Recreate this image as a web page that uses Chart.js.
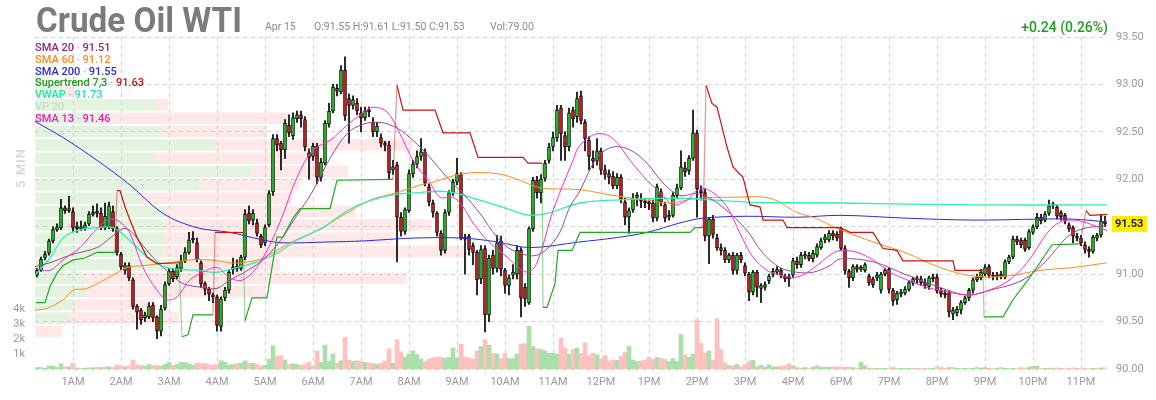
<!DOCTYPE html>
<html>
<head>
<meta charset="utf-8">
<title>Crude Oil WTI</title>
<script src="https://cdn.jsdelivr.net/npm/chart.js@4.4.1/dist/chart.umd.min.js"></script>
<style>
  html, body { margin: 0; padding: 0; background: #fff; }
  #wrap { position: relative; width: 1156px; height: 400px; font-family: Roboto, "Noto Sans", sans-serif; }
  #chart { position: absolute; left: 0; top: 0; }
  .txt { position: absolute; white-space: nowrap; line-height: 1; }
  .title { left: 36px; top: 3px; font-size: 35px; font-weight: bold; color: #7b7b7b; transform: scaleX(0.95); transform-origin: left top; }
  .sub { top: 22px; font-size: 10.5px; color: #8a8a8a; }
  .chg { right: 48px; top: 20px; font-size: 14px; font-weight: 500; color: #1e9e1e; }
  .lg { left: 35px; font-size: 11px; font-weight: 500; line-height: 12px; }
  .dot { color: #aaa; }
  .tf { left: 20px; top: 168px; font-size: 13px; font-weight: bold; color: #dadada; letter-spacing: 1px;
        transform: translate(-50%, -50%) rotate(-90deg); }
</style>
</head>
<body>
<div id="wrap">
  <canvas id="chart" width="1156" height="400"></canvas>
  <div class="txt title">Crude Oil WTI</div>
  <div class="txt sub" style="left:265px">Apr 15</div>
  <div class="txt sub" style="left:314px">O:91.55 H:91.61 L:91.50 C:91.53</div>
  <div class="txt sub" style="left:490px">Vol:79.00</div>
  <div class="txt chg">+0.24 (0.26%)</div>
  <div class="txt tf">5 MIN</div>
  <div class="txt lg" style="top:42px"><span style="color:#8a2a7a">SMA 20</span> <span class="dot">·</span> <span style="color:#8a2a7a">91.51</span></div>
  <div class="txt lg" style="top:53.8px"><span style="color:#ff8c1a">SMA 60</span> <span class="dot">·</span> <span style="color:#ff8c1a">91.12</span></div>
  <div class="txt lg" style="top:65.6px"><span style="color:#2a2ae6">SMA 200</span> <span class="dot">·</span> <span style="color:#2a2ae6">91.55</span></div>
  <div class="txt lg" style="top:77.4px"><span style="color:#1e9a1e">Supertrend 7,3</span> <span class="dot">·</span> <span style="color:#d01010">91.63</span></div>
  <div class="txt lg" style="top:89.2px"><span style="color:#1ee8b0">VWAP</span> <span class="dot">·</span> <span style="color:#1ee8b0">91.73</span></div>
  <div class="txt lg" style="top:101px"><span style="color:#bfe3bf">VP 20</span></div>
  <div class="txt lg" style="top:112.8px"><span style="color:#f01cc0">SMA 13</span> <span class="dot">·</span> <span style="color:#f01cc0">91.46</span></div>
</div>
<script>
// 5-minute candles, 00:15 to 23:30 (17:00 hour is the daily break)
const opens = [
  90.99, 91.04, 91.17, 91.22, 91.35, 91.47, 91.49, 91.70, 91.67, 91.66, 91.49, 91.48,
  91.48, 91.53, 91.63, 91.65, 91.64, 91.49, 91.50, 91.66, 91.48, 91.21, 91.04, 91.09,
  90.94, 90.66, 90.62, 90.54, 90.55, 90.67, 90.55, 90.40, 90.64, 90.90, 91.03, 90.97,
  91.06, 91.14, 91.23, 91.36, 91.33, 91.12, 90.90, 90.84, 90.78, 90.76, 90.45, 90.75,
  90.83, 91.05, 91.07, 91.06, 91.18, 91.64, 91.57, 91.54, 91.40, 91.33, 91.52, 91.87,
  92.43, 92.38, 92.31, 92.57, 92.46, 92.64, 92.68, 92.63, 92.28, 92.24, 92.35, 92.02,
  92.17, 92.58, 92.72, 92.96, 92.92, 93.15, 92.85, 92.78, 92.80, 92.70, 92.65, 92.72,
  92.60, 92.50, 92.44, 92.38, 92.36, 92.10, 92.15, 91.60, 91.45, 91.67, 92.06, 92.16,
  92.24, 92.29, 91.92, 91.75, 91.64, 91.43, 91.25, 91.65, 91.86, 91.97, 92.05, 91.39,
  91.40, 91.30, 91.23, 90.95, 91.27, 90.57, 91.20, 91.06, 91.35, 91.04, 90.88, 90.99,
  91.00, 91.25, 90.86, 90.70, 91.48, 91.99, 91.86, 92.01, 92.20, 92.34, 92.44, 92.75,
  92.46, 92.34, 92.73, 92.66, 92.88, 92.60, 92.41, 92.22, 92.19, 92.30, 92.10, 92.06,
  92.03, 91.93, 92.02, 91.76, 91.60, 91.68, 91.81, 91.78, 91.76, 91.75, 91.75, 91.59,
  91.87, 91.73, 91.60, 91.62, 91.83, 91.91, 92.12, 92.09, 92.22, 92.49, 91.88, 91.86,
  91.40, 91.58, 91.38, 91.28, 91.25, 91.15, 91.20, 91.04, 91.20, 91.09, 91.00, 90.81,
  91.02, 90.85, 90.86, 90.93, 91.00, 91.02, 91.04, 90.98, 90.97, 90.99, 91.14, 91.10,
  91.19, 91.20, 91.16, 91.20, 91.28, 91.36, 91.36, 91.43, 91.42,
  91.48, 91.27, 91.03, 90.96, 91.08, 91.05, 91.04, 90.98, 90.95, 90.96, 90.83, 91.00,
  91.05, 90.83, 90.73, 90.79, 90.80, 90.84, 90.91, 90.96, 90.95, 90.92, 90.87, 90.95,
  90.97, 90.82, 90.80, 90.80, 90.58, 90.59, 90.62, 90.70, 90.75, 90.83, 90.94, 90.96,
  91.00, 91.08, 90.99, 90.97, 90.98, 90.97, 91.13, 91.18, 91.37, 91.36, 91.36, 91.28,
  91.44, 91.50, 91.60, 91.57, 91.64, 91.74, 91.71, 91.65, 91.62, 91.52, 91.49, 91.40,
  91.38, 91.31, 91.26, 91.24, 91.38, 91.41, 91.55
];
const highs = [
  91.06, 91.18, 91.24, 91.37, 91.50, 91.53, 91.79, 91.72, 91.82, 91.70, 91.55, 91.56,
  91.55, 91.66, 91.72, 91.74, 91.70, 91.75, 91.76, 91.72, 91.50, 91.23, 91.12, 91.12,
  90.96, 90.68, 90.64, 90.60, 90.70, 90.70, 90.56, 90.67, 90.92, 91.06, 91.06, 91.10,
  91.20, 91.28, 91.44, 91.45, 91.38, 91.14, 90.92, 90.86, 90.80, 90.78, 90.76, 90.86,
  91.04, 91.17, 91.15, 91.20, 91.68, 91.72, 91.68, 91.58, 91.42, 91.52, 91.88, 92.47,
  92.47, 92.40, 92.63, 92.68, 92.70, 92.72, 92.72, 92.66, 92.32, 92.38, 92.38, 92.22,
  92.62, 92.80, 93.00, 93.00, 93.20, 93.29, 92.90, 92.88, 92.85, 92.76, 92.76, 92.76,
  92.65, 92.60, 92.48, 92.40, 92.40, 92.20, 92.18, 91.65, 91.70, 92.10, 92.20, 92.30,
  92.43, 92.32, 91.95, 91.78, 91.66, 91.46, 91.68, 91.88, 92.00, 92.22, 92.07, 91.42,
  91.42, 91.33, 91.25, 91.30, 91.30, 91.20, 91.25, 91.41, 91.40, 91.06, 90.99, 91.10,
  91.30, 91.28, 90.90, 91.50, 92.02, 92.03, 92.05, 92.20, 92.38, 92.50, 92.78, 92.78,
  92.50, 92.75, 92.76, 92.92, 92.93, 92.63, 92.45, 92.30, 92.43, 92.33, 92.15, 92.10,
  92.08, 92.06, 92.05, 91.80, 91.70, 91.85, 91.86, 91.85, 91.80, 91.78, 91.78, 91.95,
  91.90, 91.76, 91.67, 91.86, 91.95, 92.30, 92.18, 92.25, 92.73, 92.52, 91.93, 91.90,
  91.60, 91.62, 91.42, 91.32, 91.28, 91.22, 91.23, 91.22, 91.23, 91.12, 91.02, 91.04,
  91.04, 90.90, 90.92, 91.00, 91.06, 91.08, 91.06, 91.00, 91.00, 91.17, 91.18, 91.23,
  91.24, 91.23, 91.25, 91.32, 91.38, 91.42, 91.46, 91.46, 91.45,
  91.50, 91.30, 91.05, 91.10, 91.10, 91.09, 91.12, 91.00, 90.97, 91.02, 91.02, 91.06,
  91.07, 90.85, 90.82, 90.84, 90.87, 90.93, 90.97, 90.98, 90.98, 90.95, 90.98, 91.00,
  91.00, 90.85, 90.83, 90.82, 90.65, 90.66, 90.72, 90.77, 90.85, 90.96, 91.00, 91.05,
  91.10, 91.10, 91.02, 91.02, 91.03, 91.15, 91.20, 91.40, 91.40, 91.38, 91.38, 91.47,
  91.52, 91.64, 91.63, 91.66, 91.78, 91.76, 91.73, 91.67, 91.64, 91.54, 91.51, 91.43,
  91.41, 91.34, 91.29, 91.41, 91.43, 91.62, 91.61
];
const lows = [
  90.97, 91.03, 91.15, 91.20, 91.33, 91.45, 91.47, 91.64, 91.65, 91.45, 91.44, 91.46,
  91.46, 91.51, 91.61, 91.60, 91.47, 91.47, 91.48, 91.45, 91.20, 91.05, 91.00, 90.93,
  90.63, 90.42, 90.47, 90.50, 90.53, 90.50, 90.32, 90.35, 90.62, 90.88, 90.92, 90.95,
  91.03, 91.12, 91.21, 91.33, 91.13, 90.86, 90.78, 90.72, 90.70, 90.40, 90.40, 90.72,
  90.80, 91.00, 91.03, 91.04, 91.15, 91.53, 91.52, 91.40, 91.28, 91.30, 91.50, 91.83,
  92.30, 92.10, 92.22, 92.45, 92.42, 92.60, 92.55, 92.30, 92.00, 92.20, 91.95, 91.98,
  92.15, 92.55, 92.70, 92.88, 92.90, 92.62, 92.38, 92.74, 92.68, 92.50, 92.62, 92.66,
  92.45, 92.45, 92.34, 92.30, 92.00, 92.05, 91.13, 91.40, 91.42, 91.65, 92.02, 92.12,
  92.20, 91.93, 91.72, 91.60, 91.40, 91.20, 91.22, 91.62, 91.83, 91.94, 91.36, 91.00,
  91.20, 91.10, 90.78, 90.90, 90.39, 90.50, 91.00, 91.02, 90.98, 90.80, 90.78, 90.95,
  90.95, 90.55, 90.66, 90.68, 91.45, 91.80, 91.75, 91.98, 92.17, 92.30, 92.40, 92.20,
  92.20, 92.30, 92.55, 92.60, 92.58, 92.30, 92.10, 92.12, 92.15, 92.05, 92.00, 91.95,
  91.90, 91.90, 91.75, 91.52, 91.43, 91.65, 91.72, 91.70, 91.70, 91.68, 91.55, 91.56,
  91.72, 91.55, 91.57, 91.60, 91.80, 91.89, 92.03, 92.05, 92.20, 91.60, 91.78, 91.35,
  91.11, 91.38, 91.25, 91.20, 91.12, 91.12, 91.00, 91.00, 91.12, 90.98, 90.72, 90.78,
  90.76, 90.70, 90.83, 90.90, 90.97, 91.00, 90.96, 90.92, 90.87, 90.96, 91.06, 91.07,
  91.16, 91.14, 91.13, 91.18, 91.26, 91.33, 91.34, 91.36, 91.35,
  91.25, 91.00, 90.86, 90.93, 91.02, 91.03, 91.02, 90.88, 90.86, 90.93, 90.80, 90.98,
  90.80, 90.67, 90.68, 90.76, 90.78, 90.82, 90.88, 90.90, 90.88, 90.85, 90.84, 90.92,
  90.80, 90.76, 90.75, 90.55, 90.52, 90.56, 90.58, 90.68, 90.72, 90.80, 90.92, 90.94,
  90.98, 90.96, 90.94, 90.94, 90.95, 90.95, 91.11, 91.16, 91.31, 91.28, 91.24, 91.26,
  91.42, 91.48, 91.53, 91.55, 91.62, 91.69, 91.58, 91.57, 91.53, 91.45, 91.33, 91.35,
  91.30, 91.22, 91.18, 91.22, 91.35, 91.39, 91.50
];
const closes = [
  91.04, 91.16, 91.21, 91.35, 91.47, 91.50, 91.70, 91.67, 91.69, 91.49, 91.48, 91.49,
  91.52, 91.63, 91.65, 91.64, 91.49, 91.61, 91.72, 91.48, 91.23, 91.08, 91.09, 90.96,
  90.66, 90.60, 90.52, 90.57, 90.66, 90.54, 90.40, 90.63, 90.89, 91.03, 90.95, 91.07,
  91.14, 91.23, 91.36, 91.38, 91.15, 90.90, 90.84, 90.79, 90.76, 90.46, 90.74, 90.83,
  91.02, 91.07, 91.06, 91.18, 91.63, 91.56, 91.64, 91.43, 91.31, 91.49, 91.85, 92.43,
  92.36, 92.31, 92.59, 92.49, 92.65, 92.68, 92.64, 92.34, 92.23, 92.35, 92.02, 92.18,
  92.59, 92.72, 92.97, 92.93, 93.15, 92.67, 92.78, 92.84, 92.72, 92.65, 92.72, 92.71,
  92.50, 92.56, 92.38, 92.36, 92.07, 92.13, 91.60, 91.45, 91.68, 92.06, 92.16, 92.24,
  92.29, 91.96, 91.76, 91.65, 91.44, 91.25, 91.65, 91.86, 91.97, 92.06, 91.38, 91.37,
  91.26, 91.23, 90.94, 91.26, 90.57, 91.17, 91.06, 91.33, 91.05, 90.88, 90.96, 91.02,
  91.25, 90.75, 90.74, 91.48, 91.99, 91.86, 92.00, 92.17, 92.34, 92.44, 92.73, 92.48,
  92.34, 92.70, 92.64, 92.85, 92.62, 92.43, 92.24, 92.19, 92.30, 92.10, 92.05, 92.02,
  91.93, 92.02, 91.79, 91.60, 91.67, 91.80, 91.82, 91.77, 91.75, 91.74, 91.59, 91.92,
  91.75, 91.59, 91.62, 91.83, 91.91, 92.13, 92.08, 92.22, 92.49, 91.90, 91.86, 91.40,
  91.58, 91.42, 91.28, 91.25, 91.15, 91.20, 91.04, 91.20, 91.15, 91.01, 90.81, 91.02,
  90.86, 90.88, 90.89, 90.98, 91.03, 91.05, 90.99, 90.95, 90.95, 91.14, 91.10, 91.20,
  91.21, 91.16, 91.22, 91.29, 91.35, 91.39, 91.43, 91.40, 91.38,
  91.27, 91.04, 90.96, 91.08, 91.05, 91.07, 91.10, 90.91, 90.89, 90.99, 91.00, 91.04,
  90.84, 90.72, 90.80, 90.81, 90.84, 90.91, 90.95, 90.94, 90.91, 90.88, 90.96, 90.97,
  90.82, 90.79, 90.78, 90.60, 90.62, 90.63, 90.70, 90.75, 90.83, 90.94, 90.97, 91.02,
  91.07, 90.99, 90.97, 90.99, 91.00, 91.13, 91.18, 91.37, 91.34, 91.31, 91.26, 91.45,
  91.50, 91.60, 91.56, 91.63, 91.72, 91.72, 91.61, 91.60, 91.56, 91.48, 91.40, 91.38,
  91.33, 91.26, 91.24, 91.39, 91.41, 91.56, 91.53
];
// volume in thousands of contracts
const volumes = [
  0.10, 0.10, 0.05, 0.20, 0.20, 0.10, 0.35, 0.15, 0.15, 0.40, 0.08, 0.05,
  0.05, 0.08, 0.08, 0.12, 0.10, 0.12, 0.15, 0.10, 0.27, 0.20, 0.15, 0.20,
  0.60, 0.25, 0.25, 0.18, 0.30, 0.22, 0.25, 0.20, 0.30, 0.45, 0.25, 0.30,
  0.45, 0.45, 0.35, 0.25, 0.40, 0.35, 0.38, 0.30, 0.25, 0.30, 0.55, 0.45,
  0.25, 0.30, 0.35, 0.40, 0.55, 0.40, 0.38, 0.30, 0.20, 0.25, 0.65, 1.55,
  0.85, 0.90, 0.60, 0.30, 0.35, 0.30, 0.25, 0.30, 0.45, 0.15, 1.20, 0.45,
  1.60, 0.50, 1.00, 0.38, 0.55, 2.10, 0.60, 0.50, 0.55, 0.50, 0.45, 0.40,
  0.38, 0.30, 0.38, 0.55, 1.35, 0.38, 1.95, 1.15, 0.80, 1.00, 1.20, 0.95,
  0.65, 0.50, 0.65, 0.75, 0.78, 0.78, 0.72, 0.78, 1.40, 0.75, 1.65, 0.80,
  0.75, 0.65, 1.20, 1.50, 1.95, 1.60, 1.05, 1.00, 0.70, 1.05, 0.70, 0.70,
  1.00, 1.65, 1.70, 2.85, 1.50, 1.35, 1.30, 1.20, 1.05, 1.05, 1.00, 2.05,
  1.40, 1.00, 1.30, 1.40, 1.05, 1.75, 0.90, 1.05, 0.95, 0.65, 0.90, 0.55,
  0.60, 0.58, 0.85, 1.10, 1.50, 0.60, 0.50, 0.55, 0.58, 0.78, 0.65, 0.78,
  0.70, 0.65, 0.50, 0.70, 0.50, 2.30, 0.95, 0.78, 1.00, 3.30, 1.70, 1.05,
  1.20, 0.60, 3.35, 1.30, 0.40, 0.22, 0.22, 0.30, 0.15, 0.30, 0.53, 0.58,
  0.18, 0.25, 0.12, 0.28, 0.14, 0.15, 0.18, 0.22, 0.36, 0.22, 0.10, 0.05,
  0.10, 0.05, 0.13, 0.22, 0.12, 0.12, 0.12, 0.12, 0.15,
  0.12, 0.12, 0.12, 0.10, 0.05, 0.45, 0.22, 0.05, 0.05, 0.04, 0.05, 0.04,
  0.05, 0.12, 0.05, 0.04, 0.05, 0.04, 0.05, 0.04, 0.05, 0.04, 0.05, 0.04,
  0.15, 0.12, 0.05, 0.12, 0.10, 0.05, 0.04, 0.05, 0.04, 0.05, 0.10, 0.05,
  0.10, 0.05, 0.04, 0.05, 0.10, 0.05, 0.04, 0.05, 0.04, 0.10, 0.05, 0.12,
  0.18, 0.18, 0.05, 0.04, 0.05, 0.04, 0.08, 0.05, 0.04, 0.05, 0.08, 0.05,
  0.04, 0.05, 0.04, 0.05, 0.04, 0.08, 0.079
];
const volTicks = [1, 2, 3, 4];

// indicator readings: [candle index, price]
const sma20 = [[-0.5,91.08],[3.25,91.12],[8.25,91.20],[15,91.28],[18.25,91.38],[21.5,91.48],[23.25,91.46],[26.5,91.30],[30,91.13],[33.25,91.01],[36.5,90.90],[41.5,90.86],[45,90.85],[48.25,90.94],[51.5,91.01],[56.5,91.15],[60.75,91.35],[65,91.62],[69,91.88],[73.25,92.22],[77.5,92.48],[81.5,92.58],[85.75,92.60],[90,92.54],[94,92.41],[98.25,92.23],[102.5,92.02],[106.5,91.85],[110.75,91.64],[115,91.39],[119,91.25],[125,91.20],[130,91.39],[133.25,91.71],[135.75,91.88],[140,92.23],[144,92.34],[148.25,92.31],[152.5,92.17],[156.5,91.96],[160.75,91.83],[165,91.85],[169,91.78],[173.25,91.64],[177.5,91.46],[181.5,91.22],[185.75,91.07],[190,91.02],[194,91.02],[198.25,91.09],[200.75,91.16],[209,91.13],[217.5,90.99],[225.75,90.86],[232.5,90.78],[238.25,90.83],[246.5,90.94],[252.5,91.15],[257.5,91.39],[261.5,91.48],[267.5,91.51]];
const sma13 = [[-0.5,91.06],[3.25,91.04],[6.5,91.15],[10.75,91.28],[15,91.48],[18.25,91.58],[20.75,91.55],[23.25,91.43],[26.5,91.07],[30,90.83],[32.5,90.73],[35,90.76],[38.25,90.94],[41.5,91.02],[45,91.07],[48.25,90.96],[51.5,90.94],[55.75,91.12],[60.75,91.55],[65,92.02],[69,92.31],[73.25,92.41],[77.5,92.57],[81.5,92.70],[84,92.76],[87.5,92.71],[90.75,92.48],[94,92.20],[98.25,91.96],[100.75,91.81],[104,91.81],[106.5,91.71],[109,91.54],[112.5,91.36],[117.5,91.18],[122.5,91.02],[125,91.12],[129,91.67],[134,92.20],[135.75,92.36],[140,92.48],[144,92.43],[148.25,92.20],[152.5,91.99],[156.5,91.83],[159,91.73],[162.5,91.78],[165.75,91.90],[169,91.86],[172.5,91.71],[175.75,91.43],[179,91.18],[182.5,91.04],[185.75,90.99],[190,90.97],[194,91.06],[198.25,91.20],[200.75,91.25],[205,91.23],[209,91.15],[213.25,91.02],[217.5,90.94],[222.5,90.86],[225.75,90.83],[232.5,90.78],[236.5,90.81],[242.5,90.92],[247.5,91.12],[252.5,91.43],[255.75,91.55],[259,91.57],[262.5,91.54],[267.5,91.46]];
const sma60 = [[-0.5,90.62],[2.5,90.64],[6.5,90.73],[9,90.83],[12.5,90.85],[19,90.99],[22.5,91.07],[26.5,91.09],[33.25,91.12],[38.25,91.15],[43.25,91.15],[48.25,91.12],[51.5,91.12],[56.5,91.17],[63.25,91.33],[70,91.46],[76.5,91.62],[83.25,91.78],[90,91.86],[95.75,91.94],[98.25,91.96],[106.5,92.06],[115,92.06],[120.75,91.99],[125.75,91.91],[135.75,91.89],[144,91.83],[152.5,91.78],[158.25,91.75],[165,91.80],[173.25,91.81],[183.25,91.80],[190,91.65],[194,91.60],[200.75,91.47],[209,91.34],[217.5,91.22],[225.75,91.07],[234,90.98],[242.5,90.98],[250.75,91.04],[259,91.07],[267.5,91.12]];
const sma200 = [[-0.5,92.61],[6.5,92.44],[15,92.20],[23.25,91.94],[31.5,91.64],[40,91.49],[48.25,91.44],[56.5,91.36],[61.5,91.33],[73.25,91.34],[81.5,91.35],[94,91.38],[106.5,91.38],[115,91.34],[123.25,91.28],[135.75,91.34],[144,91.38],[152.5,91.44],[160.75,91.54],[166.5,91.59],[177.5,91.61],[190,91.60],[200.75,91.62],[217.5,91.59],[234,91.57],[250.5,91.58],[259,91.58],[267.5,91.55]];
const vwap = [[-0.5,90.99],[3.25,91.17],[6.5,91.38],[10,91.46],[15,91.49],[19,91.49],[22.5,91.38],[26.5,91.22],[30,91.11],[33.25,91.06],[40,91.04],[45,91.02],[50,91.07],[55,91.13],[60,91.22],[65,91.36],[71.5,91.49],[76.5,91.64],[81.5,91.75],[88.25,91.83],[95.75,91.86],[102.5,91.87],[110.75,91.78],[119,91.67],[123.25,91.62],[127.5,91.64],[135.75,91.75],[144,91.78],[160.75,91.80],[177.5,91.76],[200.75,91.75],[234,91.73],[267.5,91.73]];
// supertrend: [candle index, price, 1 = up (green) / -1 = down (red)]
const supertrend = [[-0.25,90.70,1],[2,90.70,1],[3.25,90.87,1],[5,91.01,1],[6.5,91.09,1],[9,91.15,1],[12,91.17,1],[15,91.23,1],[19.5,91.23,1],
  [20,91.88,-1],[20.75,91.88,-1],[22,91.71,-1],[23.25,91.57,-1],[25,91.39,-1],[27.5,91.18,-1],[30,91.11,-1],[35.5,91.12,-1],
  [36.25,90.34,1],[37.75,90.36,1],[39,90.57,1],[44,90.57,1],
  [44.5,91.44,-1],[51.5,91.44,-1],
  [52,90.51,1],[53.75,90.75,1],[57.5,90.75,1],[60,91.39,1],[61.5,91.39,1],[64,91.59,1],[65.75,91.69,1],[73.25,91.69,1],[75,91.99,1],[89,92.00,1],
  [90,92.99,-1],[91.5,92.73,-1],[99.5,92.73,-1],[101.5,92.49,-1],[108.25,92.49,-1],[110.25,92.23,-1],[121.5,92.23,-1],[122.75,92.17,-1],[126.25,92.17,-1],
  [126.5,90.65,1],[127.5,90.65,1],[129.5,90.90,1],[130.25,91.25,1],[133.75,91.25,1],[135.75,91.44,1],[163.25,91.44,1],[164.5,91.49,1],[166.5,91.49,1],
  [167.25,92.99,-1],[168.75,92.80,-1],[170,92.76,-1],[172.5,92.34,-1],[174,92.13,-1],[176.5,92.02,-1],[178.25,91.73,-1],[180.75,91.71,-1],[181.5,91.57,-1],[186.5,91.57,-1],[187.5,91.49,-1],[200.75,91.49,-1],[203.25,91.44,-1],[209,91.44,-1],[211.5,91.27,-1],[215,91.25,-1],[216.5,91.14,-1],[229,91.14,-1],[229.5,91.04,-1],[236.5,91.04,-1],
  [236.75,90.55,1],[241.5,90.55,1],[244,90.73,1],[247.75,90.94,1],[250.75,91.12,1],[253.75,91.31,1],[260.75,91.32,1],
  [262.25,91.67,-1],[263.25,91.62,-1],[267.5,91.63,-1]];

// volume profile, 20 price rows from vpLow to vpHigh (bottom row first)
const vpLow = 90.325, vpHigh = 93.135;
const vpBuy  = [0, 3.1, 3.5, 4.8, 4.7, 14.5, 11.9, 12.1, 12.1, 12.1, 10.0, 15.3, 20.2, 11.3, 16.9, 11.9, 6.1, 11.3, 2.3, 0.5];
const vpSell = [2.5, 10.3, 7.7, 16.7, 30.0, 8.4, 28.1, 21.3, 24.9, 17.8, 14.0, 9.3, 9.0, 15.0, 18.3, 9.7, 17.5, 1.1, 1.4, 0.5];

// time labels for each candle
const labels = [];
{
  let h = 0, m = 15;
  for (let i = 0; i < closes.length; i++) {
    labels.push(h + ':' + String(m).padStart(2, '0'));
    m += 5;
    if (m === 60) { m = 0; h++; if (h === 17) h++; }
  }
}
function hourText(label) {
  const [h, m] = label.split(':').map(Number);
  if (m !== 0) return '';
  const hh = h % 12 === 0 ? 12 : h % 12;
  return hh + (h < 12 ? 'AM' : 'PM');
}

const up = closes.map((c, i) => c >= opens[i]);
const pts = arr => arr.map(p => ({ x: p[0], y: p[1] }));
const GREEN = '#21d921', RED = '#ee1d1d';

const overlay = {
  id: 'overlay',
  beforeDatasetsDraw(chart) {
    const { ctx, scales } = chart;
    const ys = scales.y, xs = scales.xvp;
    const step = (vpHigh - vpLow) / vpBuy.length;
    ctx.save();
    vpBuy.forEach((b, k) => {
      const top = ys.getPixelForValue(vpLow + (k + 1) * step) + 0.9;
      const bot = ys.getPixelForValue(vpLow + k * step) - 0.9;
      const x0 = xs.getPixelForValue(0), x1 = xs.getPixelForValue(b), x2 = xs.getPixelForValue(b + vpSell[k]);
      ctx.fillStyle = 'rgba(170,220,160,0.33)';
      ctx.fillRect(x0, top, x1 - x0, bot - top);
      ctx.fillStyle = 'rgba(250,170,170,0.27)';
      ctx.fillRect(x1, top, x2 - x1, bot - top);
    });
    ctx.restore();
  },
  afterDraw(chart) {
    const { ctx, chartArea, scales } = chart;
    const last = closes[closes.length - 1];
    const py = Math.round(scales.y.getPixelForValue(last));
    ctx.save();
    ctx.fillStyle = '#ffee00';
    ctx.fillRect(chartArea.right + 5, py - 8, 35, 16);
    ctx.fillStyle = '#222';
    ctx.font = 'bold 11px Roboto';
    ctx.textBaseline = 'middle';
    ctx.textAlign = 'left';
    ctx.fillText(last.toFixed(2), chartArea.right + 8, py + 0.5);
    ctx.restore();
  }
};

const line = (data, color, order, width) => ({
  type: 'line', data: pts(data), xAxisID: 'xl', yAxisID: 'y',
  borderColor: color, borderWidth: width || 1, pointRadius: 0, tension: 0.35, order: order
});

Chart.defaults.font.family = 'Roboto';

new Chart(document.getElementById('chart'), {
  type: 'bar',
  data: {
    labels: labels,
    datasets: [
      {
        type: 'line', data: pts(supertrend), xAxisID: 'xl', yAxisID: 'y',
        borderWidth: 1.2, pointRadius: 0, tension: 0, order: 1,
        borderColor: '#22a822',
        segment: {
          borderColor: c => {
            const d0 = supertrend[c.p0DataIndex][2], d1 = supertrend[c.p1DataIndex][2];
            if (d0 === d1) return d1 > 0 ? '#22a822' : '#d01010';
            return d1 > 0 ? 'rgba(34,168,34,0.45)' : 'rgba(208,16,16,0.45)';
          }
        }
      },
      line(sma13, '#ff2ccf', 2),
      line(sma20, '#9a4a90', 3),
      line(vwap, '#2ef0b4', 4, 1.3),
      line(sma60, '#ff8c1a', 5),
      line(sma200, '#2a2ae6', 6),
      {
        label: 'body', data: opens.map((o, i) => [o, closes[i]]), yAxisID: 'y', xAxisID: 'x',
        backgroundColor: up.map(u => u ? GREEN : RED), borderColor: '#000', borderWidth: 1,
        borderSkipped: false, barThickness: 3, minBarLength: 2, grouped: false, order: 10
      },
      {
        label: 'wick', data: lows.map((l, i) => [l, highs[i]]), yAxisID: 'y', xAxisID: 'x',
        backgroundColor: '#000', barThickness: 1, grouped: false, order: 11
      },
      {
        label: 'volume', data: volumes, yAxisID: 'vol', xAxisID: 'x',
        backgroundColor: up.map(u => u ? '#a9e0a9' : '#ffc0c0'),
        barPercentage: 1, categoryPercentage: 1, grouped: false, order: 12
      }
    ]
  },
  options: {
    responsive: false,
    animation: false,
    events: [],
    layout: { padding: { top: 37, right: 0, bottom: 0, left: 0 } },
    plugins: { legend: { display: false }, tooltip: { enabled: false } },
    scales: {
      x: {
        type: 'category', offset: true,
        grid: {
          offset: false, drawTicks: false,
          color: c => (c.index !== undefined && hourText(labels[c.index])) ? '#d2d2d2' : 'rgba(0,0,0,0)'
        },
        border: { display: false, dash: [4, 4] },
        ticks: {
          autoSkip: false, maxRotation: 0, minRotation: 0, padding: 7,
          color: '#999', font: { size: 11 },
          callback: (v, i) => hourText(labels[i])
        },
        afterFit: s => { s.height = 31; }
      },
      xl: { type: 'linear', display: false, offset: false, grid: { offset: false }, min: -0.5, max: labels.length - 0.5 },
      xvp: { type: 'linear', display: false, offset: false, grid: { offset: false }, min: 0, max: 100 },
      y: {
        type: 'linear', position: 'right', min: 90, max: 93.5,
        grid: { color: '#d2d2d2', drawTicks: false },
        border: { display: false, dash: [4, 4] },
        ticks: { stepSize: 0.5, padding: 9, color: '#999', font: { size: 11 }, callback: v => v.toFixed(2) },
        afterFit: s => { s.width = 49; }
      },
      vol: {
        type: 'linear', position: 'left', min: 0, max: 22.15,
        grid: { display: false },
        border: { display: false },
        ticks: { padding: 2, color: '#999', font: { size: 11 }, callback: v => v + 'k' },
        afterBuildTicks: s => { s.ticks = volTicks.map(v => ({ value: v })); },
        afterFit: s => { s.width = 35; }
      }
    }
  },
  plugins: [overlay]
});
</script>
</body>
</html>
